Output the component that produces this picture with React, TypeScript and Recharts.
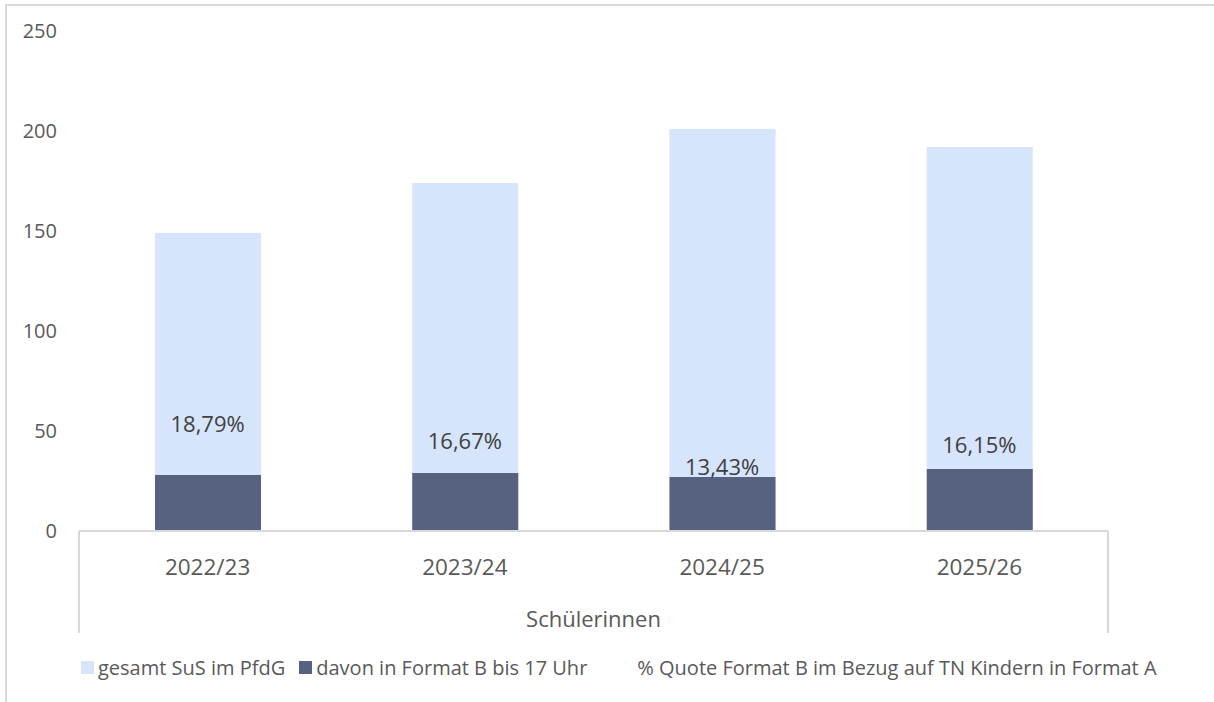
import React from "react";
import { Bar, ComposedChart, LabelList, Legend, Line, XAxis, YAxis } from "recharts";

const years = ["2022/23", "2023/24", "2024/25", "2025/26"];
const gesamtSuS = [149, 174, 201, 192];
const formatB = [28, 29, 27, 31];
const quote = [18.79, 16.67, 13.43, 16.15];
const yTicks = [0, 50, 100, 150, 200, 250];

const groupLabel = "Schülerinnen";
const legendItems = [
  { name: "gesamt SuS im PfdG", color: "#d6e4fc" },
  { name: "davon in Format B bis 17 Uhr", color: "#576180" },
  { name: "% Quote Format B im Bezug auf TN Kindern in Format A", color: "none" }
];

const FONT = '"Open Sans", "Noto Sans", sans-serif';
const LIGHT = "#d6e4fc";
const DARK = "#576180";
const LINE = "#d9d9d9";
const TEXT = "#595959";
const BAR_WIDTH = 106;

const data = years.map((year, i) => ({
  year,
  gesamt: gesamtSuS[i],
  formatB: formatB[i],
  quote: quote[i]
}));

function formatPercent(value: number): string {
  return `${value.toFixed(2).replace(".", ",")}%`;
}

function YearTick(props: any) {
  const { x, y, payload } = props;
  return (
    <text x={x} y={y + 27} textAnchor="middle" dominantBaseline="central" fill={TEXT} fontSize={22.5} fontFamily={FONT}>
      {payload.value}
    </text>
  );
}

// multi-level category look: border lines at both ends plus the group name
function GroupLabel(props: any) {
  const { x, y, width, height } = props.viewBox;
  return (
    <g>
      <line x1={x} y1={y} x2={x} y2={y + height} stroke={LINE} strokeWidth={2} />
      <line x1={x + width} y1={y} x2={x + width} y2={y + height} stroke={LINE} strokeWidth={2} />
      <text x={x + width / 2} y={y + 87} textAnchor="middle" dominantBaseline="central" fill={TEXT} fontSize={22} fontFamily={FONT}>
        {groupLabel}
      </text>
    </g>
  );
}

function QuoteLabel(props: any) {
  const { x, y, value } = props;
  return (
    <text x={x} y={y} textAnchor="middle" dominantBaseline="central" fill="#404040" fontSize={22} fontFamily={FONT}>
      {formatPercent(value)}
    </text>
  );
}

function LegendContent() {
  return (
    <div
      style={{
        height: 69,
        boxSizing: "border-box",
        paddingTop: 21,
        paddingLeft: 81,
        display: "flex",
        alignItems: "flex-start",
        fontFamily: FONT,
        fontSize: 20,
        color: TEXT,
        whiteSpace: "nowrap"
      }}
    >
      {legendItems.map((item, i) => (
        <div key={item.name} style={{ display: "flex", alignItems: "center", marginRight: i === 0 ? 14 : 33, height: 26 }}>
          <span style={{ width: 13, height: 13, background: item.color === "none" ? "transparent" : item.color, marginRight: 4 }} />
          <span>{item.name}</span>
        </div>
      ))}
    </div>
  );
}

export default function App() {
  return (
    <div style={{ position: "absolute", left: 0, top: 0, width: 1214, height: 702, background: "#fff", overflow: "hidden" }}>
      <div
        style={{
          position: "absolute",
          left: 5,
          top: 4,
          width: 1220,
          height: 710,
          borderTop: `2px solid ${LINE}`,
          borderLeft: `2px solid ${LINE}`
        }}
      />
      <div style={{ position: "absolute", left: 0, top: 0 }}>
        <ComposedChart
          width={1214}
          height={702}
          data={data}
          margin={{ top: 31, right: 106, bottom: 0, left: 0 }}
          barGap={-BAR_WIDTH}
        >
          <XAxis
            dataKey="year"
            height={102}
            tickLine={false}
            axisLine={{ stroke: LINE, strokeWidth: 2 }}
            tick={<YearTick />}
            interval={0}
            label={<GroupLabel />}
          />
          <YAxis
            yAxisId="left"
            width={79}
            domain={[0, 250]}
            ticks={yTicks}
            axisLine={false}
            tickLine={false}
            tickMargin={16}
            tick={{ fill: TEXT, fontSize: 20, fontFamily: FONT }}
          />
          <YAxis yAxisId="pct" orientation="right" hide domain={[5.3, 67.8]} />
          <Legend verticalAlign="bottom" content={<LegendContent />} wrapperStyle={{ left: 0, width: 1214 }} />
          <Bar yAxisId="left" dataKey="gesamt" name={legendItems[0].name} fill={LIGHT} barSize={BAR_WIDTH} isAnimationActive={false} />
          <Bar yAxisId="left" dataKey="formatB" name={legendItems[1].name} fill={DARK} barSize={BAR_WIDTH} isAnimationActive={false} />
          <Line
            yAxisId="pct"
            dataKey="quote"
            name={legendItems[2].name}
            stroke="none"
            dot={false}
            activeDot={false}
            isAnimationActive={false}
          >
            <LabelList dataKey="quote" content={<QuoteLabel />} />
          </Line>
        </ComposedChart>
      </div>
    </div>
  );
}
